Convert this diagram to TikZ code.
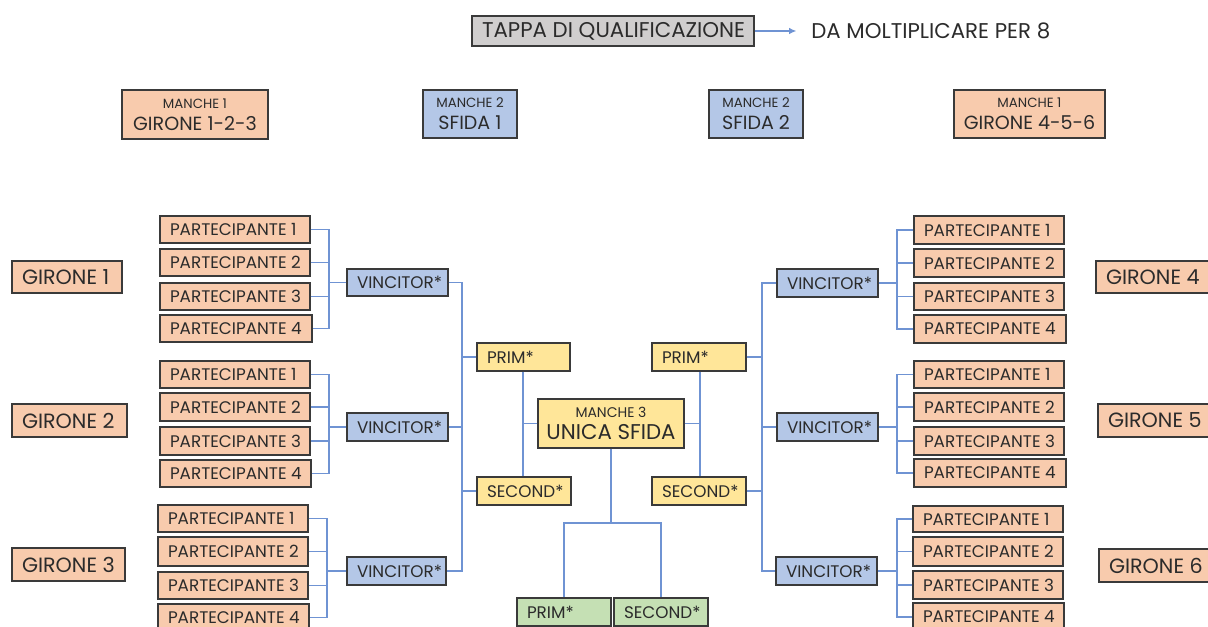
\documentclass[tikz,border=0pt]{standalone}
\usepackage{fontspec}
\setmainfont{Poppins}
\usetikzlibrary{arrows.meta}
\definecolor{salm}{HTML}{F8CBAD}
\definecolor{lblue}{HTML}{B4C7E7}
\definecolor{lyel}{HTML}{FFE699}
\definecolor{lgreen}{HTML}{C5E0B4}
\definecolor{lgrey}{HTML}{D0CECE}
\definecolor{bord}{HTML}{3A3A3A}
\definecolor{lnc}{HTML}{6F93D3}
\definecolor{txt}{HTML}{2B2B2B}
\tikzset{
  box/.style={draw=bord, line width=0.9pt, inner sep=0pt, text=txt},
  conn/.style={draw=lnc, line width=0.9pt},
  ptxt/.style={font=\fontsize{12.6}{14}\selectfont},
  gtxt/.style={font=\fontsize{15.5}{17}\selectfont},
  ttxt/.style={font=\fontsize{16}{18}\selectfont},
  two/.style={align=center, font=\fontsize{14.3}{16.5}\selectfont},
}
\newcommand\fsm{\fontsize{10}{11}\selectfont}
% single-line box, text left-aligned with 10px padding
\newcommand\bx[7]{%
  \pgfmathsetmacro\bw{(#4-#2)*0.75}%
  \pgfmathsetmacro\bh{(#5-#3)*0.75}%
  \pgfmathsetmacro\tw{(#4-#2-20)*0.75}%
  \pgfmathsetmacro\cx{(#2+#4)/2}%
  \pgfmathsetmacro\cy{(#3+#5)/2}%
  \node[box,minimum width=\bw pt,minimum height=\bh pt,#6] (#1) at (\cx,\cy) {\makebox[\tw pt][l]{#7}};}
% two-line centred box
\newcommand\bxc[7]{%
  \pgfmathsetmacro\bw{(#4-#2)*0.75}%
  \pgfmathsetmacro\bh{(#5-#3)*0.75}%
  \pgfmathsetmacro\cx{(#2+#4)/2}%
  \pgfmathsetmacro\cy{(#3+#5)/2}%
  \node[box,minimum width=\bw pt,minimum height=\bh pt,two,#6] (#1) at (\cx,\cy) {#7};}
\begin{document}
\begin{tikzpicture}[x=0.75pt,y=-0.75pt]
\useasboundingbox (0,0) rectangle (1208,627);
\clip (0,0) rectangle (1208,627);
% title
\bx{tappa}{472}{16}{754}{46}{fill=lgrey,ttxt}{TAPPA DI QUALIFICAZIONE}
\node[anchor=west,inner xsep=0pt,text=txt,ttxt] (da) at (811,31) {DA MOLTIPLICARE PER 8};
\draw[conn,-{Latex[length=5.5pt,width=5pt]}] (tappa.east) -- ([xshift=-11pt]da.west);
% header boxes
\bxc{h1}{122}{90}{268}{139}{fill=salm}{{\fsm MANCHE 1}\\GIRONE 1-2-3}
\bxc{h2}{423}{90}{517}{138}{fill=lblue}{{\fsm MANCHE 2}\\SFIDA 1}
\bxc{h3}{709}{90}{803}{138}{fill=lblue}{{\fsm MANCHE 2}\\SFIDA 2}
\bxc{h4}{954}{90}{1105}{138}{fill=salm}{{\fsm MANCHE 1}\\GIRONE 4-5-6}
% gironi labels
\bx{gl1}{12}{261}{122}{293}{fill=salm,gtxt}{GIRONE 1}
\bx{gl2}{12}{404}{127}{437}{fill=salm,gtxt}{GIRONE 2}
\bx{gl3}{12}{548}{125}{581}{fill=salm,gtxt}{GIRONE 3}
\bx{gl4}{1096}{261}{1215}{293}{fill=salm,gtxt}{GIRONE 4}
\bx{gl5}{1098}{404}{1217}{437}{fill=salm,gtxt}{GIRONE 5}
\bx{gl6}{1099}{549}{1218}{582}{fill=salm,gtxt}{GIRONE 6}
% left participants
\bx{pa1}{160}{216}{310}{243}{fill=salm,ptxt}{PARTECIPANTE 1}
\bx{pa2}{160}{249}{310}{276}{fill=salm,ptxt}{PARTECIPANTE 2}
\bx{pa3}{160}{283}{310}{310}{fill=salm,ptxt}{PARTECIPANTE 3}
\bx{pa4}{160}{315}{312}{342}{fill=salm,ptxt}{PARTECIPANTE 4}
\bx{pb1}{160}{361}{310}{388}{fill=salm,ptxt}{PARTECIPANTE 1}
\bx{pb2}{160}{393}{310}{421}{fill=salm,ptxt}{PARTECIPANTE 2}
\bx{pb3}{160}{427}{310}{455}{fill=salm,ptxt}{PARTECIPANTE 3}
\bx{pb4}{160}{460}{311}{487}{fill=salm,ptxt}{PARTECIPANTE 4}
\bx{pc1}{158}{505}{308}{532}{fill=salm,ptxt}{PARTECIPANTE 1}
\bx{pc2}{158}{537}{308}{566}{fill=salm,ptxt}{PARTECIPANTE 2}
\bx{pc3}{158}{572}{308}{599}{fill=salm,ptxt}{PARTECIPANTE 3}
\bx{pc4}{158}{604}{309}{631}{fill=salm,ptxt}{PARTECIPANTE 4}
% right participants
\bx{pd1}{914}{216}{1064}{244}{fill=salm,ptxt}{PARTECIPANTE 1}
\bx{pd2}{914}{249}{1064}{277}{fill=salm,ptxt}{PARTECIPANTE 2}
\bx{pd3}{914}{283}{1064}{310}{fill=salm,ptxt}{PARTECIPANTE 3}
\bx{pd4}{914}{315}{1066}{343}{fill=salm,ptxt}{PARTECIPANTE 4}
\bx{pe1}{914}{361}{1064}{388}{fill=salm,ptxt}{PARTECIPANTE 1}
\bx{pe2}{914}{393}{1064}{421}{fill=salm,ptxt}{PARTECIPANTE 2}
\bx{pe3}{914}{427}{1064}{455}{fill=salm,ptxt}{PARTECIPANTE 3}
\bx{pe4}{914}{459}{1066}{487}{fill=salm,ptxt}{PARTECIPANTE 4}
\bx{pf1}{913}{506}{1063}{532}{fill=salm,ptxt}{PARTECIPANTE 1}
\bx{pf2}{913}{537}{1063}{566}{fill=salm,ptxt}{PARTECIPANTE 2}
\bx{pf3}{913}{571}{1063}{599}{fill=salm,ptxt}{PARTECIPANTE 3}
\bx{pf4}{913}{603}{1064}{631}{fill=salm,ptxt}{PARTECIPANTE 4}
% vincitori
\bx{va}{347}{269}{448}{296}{fill=lblue,ptxt}{VINCITOR*}
\bx{vb}{347}{413}{448}{441}{fill=lblue,ptxt}{VINCITOR*}
\bx{vc}{347}{557}{446}{585}{fill=lblue,ptxt}{VINCITOR*}
\bx{vd}{777}{269}{878}{297}{fill=lblue,ptxt}{VINCITOR*}
\bx{ve}{777}{413}{878}{441}{fill=lblue,ptxt}{VINCITOR*}
\bx{vf}{776}{557}{877}{585}{fill=lblue,ptxt}{VINCITOR*}
% semifinal
\bx{pr1}{477}{343}{570}{371}{fill=lyel,ptxt}{PRIM*}
\bx{se1}{477}{477}{571}{505}{fill=lyel,ptxt}{SECOND*}
\bx{pr2}{652}{343}{746}{371}{fill=lyel,ptxt}{PRIM*}
\bx{se2}{652}{477}{746}{505}{fill=lyel,ptxt}{SECOND*}
\bxc{m3}{538}{399}{684}{448}{fill=lyel,font=\fontsize{16}{16.5}\selectfont}{{\fontsize{10.5}{11}\selectfont MANCHE 3}\\UNICA SFIDA}
% final
\bx{gp}{517}{598}{611}{626}{fill=lgreen,ptxt}{PRIM*}
\bx{gs}{614}{598}{708}{626}{fill=lgreen,ptxt}{SECOND*}
% bar coordinates
\coordinate (ba) at (329,0);
\coordinate (bb) at (329,0);
\coordinate (bc) at (327,0);
\coordinate (bd) at (897,0);
\coordinate (be) at (897,0);
\coordinate (bf) at (897,0);
\coordinate (ol) at (462,0);
\coordinate (or) at (762,0);
\coordinate (cl) at (523,0);
\coordinate (cr) at (700,0);
\coordinate (jb) at (611,523);
% group brackets
\foreach \g/\v in {a/va,b/vb,c/vc}{
  \draw[conn] (p\g1.east) -- (p\g1.east -| b\g) -- (p\g4.east -| b\g) -- (p\g4.east);
  \draw[conn] (p\g2.east) -- (p\g2.east -| b\g);
  \draw[conn] (p\g3.east) -- (p\g3.east -| b\g);
  \draw[conn] (\v.west) -- (\v.west -| b\g);
}
\foreach \g/\v in {d/vd,e/ve,f/vf}{
  \draw[conn] (p\g1.west) -- (p\g1.west -| b\g) -- (p\g4.west -| b\g) -- (p\g4.west);
  \draw[conn] (p\g2.west) -- (p\g2.west -| b\g);
  \draw[conn] (p\g3.west) -- (p\g3.west -| b\g);
  \draw[conn] (\v.east) -- (\v.east -| b\g);
}
% outer brackets
\draw[conn] (va.east) -- (va.east -| ol) -- (vc.east -| ol) -- (vc.east);
\draw[conn] (vb.east) -- (vb.east -| ol);
\draw[conn] (pr1.west) -- (pr1.west -| ol);
\draw[conn] (se1.west) -- (se1.west -| ol);
\draw[conn] (vd.west) -- (vd.west -| or) -- (vf.west -| or) -- (vf.west);
\draw[conn] (ve.west) -- (ve.west -| or);
\draw[conn] (pr2.east) -- (pr2.east -| or);
\draw[conn] (se2.east) -- (se2.east -| or);
% semifinal links
\draw[conn] (pr1.south -| cl) -- (se1.north -| cl);
\draw[conn] (m3.west) -- (m3.west -| cl);
\draw[conn] (pr2.south -| cr) -- (se2.north -| cr);
\draw[conn] (m3.east) -- (m3.east -| cr);
% final links
\draw[conn] (m3.south) -- (m3.south |- jb);
\draw[conn] (gp.north) -- (gp.north |- jb) -- (gs.north |- jb) -- (gs.north);
\end{tikzpicture}
\end{document}
